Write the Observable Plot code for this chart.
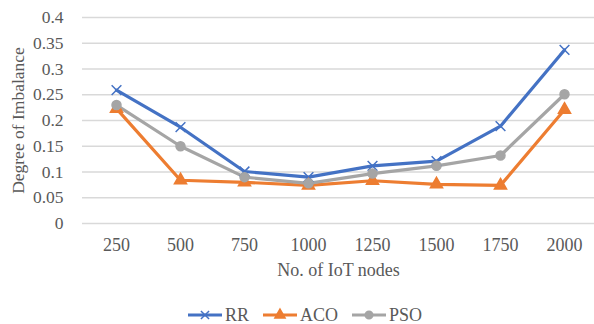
<!DOCTYPE html>
<html>
<head>
<meta charset="utf-8">
<script src="https://cdn.jsdelivr.net/npm/d3@7"></script>
<script src="https://cdn.jsdelivr.net/npm/@observablehq/plot@0.6"></script>
<style>
  body { margin: 0; background: #fff; }
  #wrap { position: relative; width: 594px; height: 324px; font-family: 'Liberation Serif', 'Times New Roman', serif; }
  #legend { position: absolute; left: 0; top: 305px; width: 594px; height: 20px; }
  svg { display: block; }
  svg text { font-family: 'Liberation Serif', 'Times New Roman', serif !important; }
</style>
</head>
<body>
<div id="wrap">
  <div id="chart"></div>
  <div id="legend"></div>
</div>
<script>
const nodes = ["250", "500", "750", "1000", "1250", "1500", "1750", "2000"];
const seriesNames = ["RR", "ACO", "PSO"];
const rr  = [0.259, 0.187, 0.101, 0.090, 0.112, 0.121, 0.189, 0.337];
const aco = [0.223, 0.084, 0.080, 0.074, 0.083, 0.076, 0.074, 0.221];
const pso = [0.230, 0.150, 0.090, 0.078, 0.097, 0.112, 0.132, 0.251];
const yTicks = [0, 0.05, 0.1, 0.15, 0.2, 0.25, 0.3, 0.35, 0.4];
const colors = ["#4472C4", "#ED7D31", "#A5A5A5"];
const symbols = ["times", "triangle", "circle"];
const FONT = "'Liberation Serif', 'Times New Roman', serif";

const values = [rr, aco, pso];
const data = [];
seriesNames.forEach((s, i) => nodes.forEach((n, j) => data.push({series: s, node: n, value: values[i][j]})));

const chart = Plot.plot({
  width: 594,
  height: 296,
  marginTop: 17,
  marginBottom: 73,
  marginLeft: 82,
  marginRight: 0,
  style: {fontFamily: FONT, fontSize: "17.5px", color: "#595959", background: "#fff"},
  x: {type: "point", domain: nodes, range: [113, 567], padding: 0},
  y: {domain: [0, 0.4]},
  color: {domain: seriesNames, range: colors},
  symbol: {domain: seriesNames, range: symbols},
  marks: [
    Plot.ruleY(yTicks, {stroke: "#D9D9D9", strokeWidth: 1.3}),
    Plot.axisY({ticks: yTicks, tickSize: 0, tickPadding: 19, tickFormat: d => String(+d.toFixed(2)), fontSize: 17.5, fill: "#595959",
      label: "Degree of Imbalance", labelAnchor: "center", labelArrow: "none", labelOffset: 71}),
    Plot.axisX({tickSize: 0, tickPadding: 15, fontSize: 18, fill: "#595959",
      label: "No. of IoT nodes", labelAnchor: "center", labelArrow: "none", labelOffset: 52}),
    Plot.line(data, {x: "node", y: "value", z: "series", stroke: "series", strokeWidth: 3.2, strokeLinejoin: "round"}),
    Plot.dot(data, {x: "node", y: "value", symbol: "series", stroke: "series", fill: "series", r: 4.5, strokeWidth: 1.5})
  ]
});
document.getElementById("chart").appendChild(chart);

// legend
const lg = d3.select("#legend").append("svg").attr("width", 594).attr("height", 20);
const items = [
  {name: "RR", x0: 188, sym: "times"},
  {name: "ACO", x0: 263, sym: "triangle"},
  {name: "PSO", x0: 352, sym: "circle"}
];
const symMap = {times: d3.symbolTimes, triangle: d3.symbolTriangle, circle: d3.symbolCircle};
items.forEach((it, i) => {
  const g = lg.append("g");
  g.append("line").attr("x1", it.x0).attr("x2", it.x0 + 34).attr("y1", 10).attr("y2", 10)
    .attr("stroke", colors[i]).attr("stroke-width", 3.2);
  g.append("path").attr("d", d3.symbol(symMap[it.sym], 45)())
    .attr("transform", `translate(${it.x0 + 17},10)`)
    .attr("fill", colors[i]).attr("stroke", colors[i]).attr("stroke-width", 1.5);
  g.append("text").attr("x", it.x0 + 37).attr("y", 10).attr("dy", "0.35em")
    .attr("font-size", 18).attr("fill", "#595959").text(it.name);
});
</script>
</body>
</html>
